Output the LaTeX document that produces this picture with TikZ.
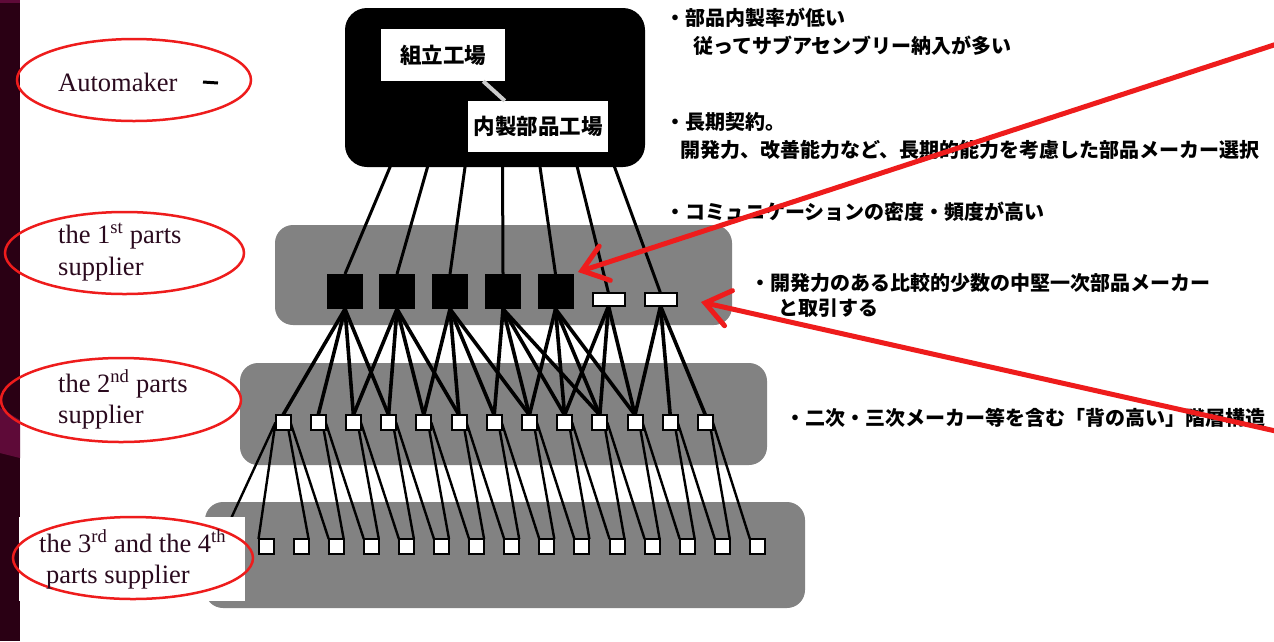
\documentclass[tikz,border=0pt]{standalone}
\usepackage{fontspec}
\setmainfont{Liberation Serif}
\newfontfamily\jp{Noto Sans CJK JP}
\usetikzlibrary{arrows.meta}
\definecolor{stripc}{HTML}{2A0014}
\definecolor{magc}{HTML}{5E0A38}
\definecolor{bandc}{HTML}{828282}
\definecolor{redmark}{HTML}{EE1C1C}
\definecolor{labc}{HTML}{2A0A1E}
\pgfdeclarelayer{bg}
\pgfdeclarelayer{wires}
\pgfsetlayers{bg,wires,main}
\tikzset{
  bandbox/.style={fill=bandc, rounded corners=18pt},
  blackbox/.style={fill=black, minimum width=36pt, minimum height=35pt, inner sep=0pt, outer sep=0pt},
  whitebar/.style={fill=white, draw=black, line width=2pt, minimum width=32pt, minimum height=13pt, inner sep=0pt, outer sep=0pt},
  sqbox/.style={fill=white, draw=black, line width=2pt, minimum width=15pt, minimum height=15pt, inner sep=0pt, outer sep=0pt},
  toplink/.style={line width=3pt},
  midlink/.style={line width=3.6pt},
  lowlink/.style={line width=2.4pt},
  redell/.style={draw=redmark, line width=2.5pt},
  lbl/.style={anchor=base west, inner sep=0pt, text=labc, font=\fontsize{26.5}{30}\selectfont},
  jtxt/.style={anchor=base west, inner sep=0pt, font=\jp\bfseries\fontsize{20}{20}\selectfont},
  factory/.style={fill=white, inner sep=0pt, font=\jp\bfseries\fontsize{21.5}{22}\selectfont},
  redarrow/.style={draw=redmark, line width=5pt, -{Straight Barb[length=24pt,width=36pt,line cap=round]}}
}
\begin{document}
\begin{tikzpicture}[x=1pt,y=-1pt]
\useasboundingbox (0,0) rectangle (1274,641);
\begin{pgfonlayer}{bg}
\fill[white] (0,0) rectangle (1274,641);
\fill[stripc] (0,0) rectangle (20,641);
\fill[magc] (0,0) rectangle (20,3);
\fill[magc] (0,408) -- (20,420) -- (20,458) -- (0,453) -- cycle;
\path[bandbox] (275,225) rectangle (732,325);
\path[bandbox] (240,363) rectangle (767,465);
\path[bandbox] (205,502) rectangle (805,608);
\end{pgfonlayer}

% automaker box
\node[fill=black, rounded corners=22pt, minimum width=300pt, minimum height=159pt, inner sep=0pt] (auto) at (495,87.5) {};
\node[factory, minimum width=124pt, minimum height=52pt] (kumi) at (443,55) {組立工場};
\node[factory, minimum width=140pt, minimum height=51pt] (naisei) at (538,126.5) {内製部品工場};
\draw[white!80!black, line width=4pt] ([xshift=-22pt]kumi.south east) -- ([xshift=37pt]naisei.north west);
\draw[black, line width=3pt] (203,82) -- (218,83);

% level 1
\foreach \x [count=\i from 0] in {345,397,450,503,555.5}
  \node[blackbox] (l1-\i) at (\x,291.5) {};
\node[whitebar] (l1-5) at (608.5,299.5) {};
\node[whitebar] (l1-6) at (660.5,299.5) {};

% level 2
\foreach \i in {0,...,12}
  \node[sqbox] (l2-\i) at ({283+35.2*\i},422.5) {};
% level 3
\foreach \i in {0,...,14}
  \node[sqbox] (l3-\i) at ({266+35.1*\i},546.5) {};
\coordinate (l3-h) at (222,538);

\begin{pgfonlayer}{wires}
\foreach \i in {0,...,6}
  \draw[toplink] ({393+36.5*\i},160) coordinate (a-\i) -- (l1-\i.north);
\foreach \a/\b in {0/0,0/1,0/2,0/3, 1/2,1/3,1/4,1/5, 2/4,2/5,2/6,2/7, 3/6,3/7,3/8,3/9, 4/7,4/8,4/9,4/10, 5/8,5/9,5/10, 6/10,6/11,6/12}
  \draw[midlink] (l1-\a.south) -- (l2-\b.north);
\draw[lowlink] (l2-0.west) -- (l3-h);
\draw[lowlink] (l2-0.west) -- (l3-0.north west);
\foreach \j in {0,...,12}{
  \pgfmathtruncatemacro{\ka}{\j+1}
  \pgfmathtruncatemacro{\kb}{\j+2}
  \draw[lowlink] ([xshift=-2pt]l2-\j.south east) -- (l3-\ka.north east);
  \draw[lowlink] (l2-\j.east) -- (l3-\kb.north west);
}
\end{pgfonlayer}

% label cover rectangle
\fill[white] (19,517) rectangle (245,601);

% red ellipses
\draw[redell] (134,80) ellipse [x radius=117, y radius=41];
\draw[redell] (124.5,253) ellipse [x radius=119.5, y radius=41];
\draw[redell] (121,400) ellipse [x radius=120, y radius=42];
\draw[redell] (133,558) ellipse [x radius=120, y radius=41];

% labels
\node[lbl] (lab0) at (58,91) {Automaker};
\node[lbl] (lab1a) at (58,243) {the 1\textsuperscript{st} parts};
\node[lbl] (lab1b) at (58,275) {supplier};
\node[lbl] (lab2a) at (58,392) {the 2\textsuperscript{nd} parts};
\node[lbl] (lab2b) at (58,423) {supplier};
\node[lbl] (lab3a) at (39,552) {the 3\textsuperscript{rd} and the 4\textsuperscript{th}};
\node[lbl] (lab3b) at (46,583) {parts supplier};

% Japanese notes
\node[jtxt] (n1a) at (665,25) {・部品内製率が低い};
\node[jtxt] (n1b) at (693,53) {従ってサブアセンブリー納入が多い};
\node[jtxt] (n2a) at (665,129) {・長期契約。};
\node[jtxt] (n2b) at (680,157) {開発力、改善能力など、長期的能力を考慮した部品メーカー選択};
\node[jtxt] (n3) at (665,219) {・コミュニケーションの密度・頻度が高い};
\node[jtxt] (n4a) at (750,290) {・開発力のある比較的少数の中堅一次部品メーカー};
\node[jtxt] (n4b) at (778,315) {と取引する};
\node[jtxt] (n5) at (785,425) {・二次・三次メーカー等を含む「背の高い」階層構造};

% red arrows
\coordinate (r1s) at (1280,43);
\coordinate (r1t) at (578,272);
\coordinate (r2s) at (1280,432);
\coordinate (r2t) at (701,302);
\draw[redarrow] (r1s) -- (r1t);
\draw[redarrow] (r2s) -- (r2t);
\end{tikzpicture}
\end{document}
